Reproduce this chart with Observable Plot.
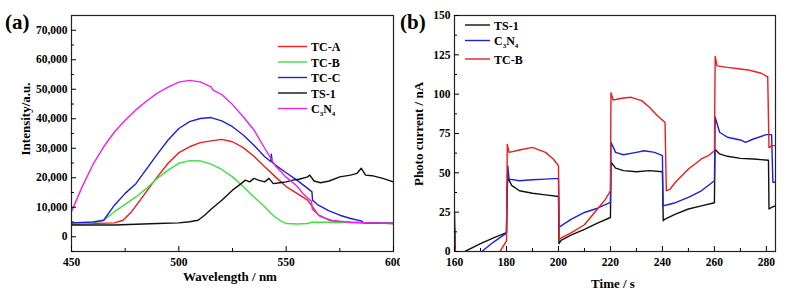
<!DOCTYPE html>
<html>
<head>
<meta charset="utf-8">
<script src="https://cdn.jsdelivr.net/npm/d3@7"></script>
<script src="https://cdn.jsdelivr.net/npm/@observablehq/plot@0.6"></script>
<style>
  html, body { margin: 0; padding: 0; background: white; }
  #wrap { display: flex; width: 789px; height: 297px; overflow: hidden; }
  #wrap svg { display: block; flex: none; }
  #wrap svg text { font-family: "Liberation Serif", "Times New Roman", serif !important; font-weight: bold; }
</style>
</head>
<body>
<div id="wrap"></div>
<script>
// ---------- Panel (a): PL spectra ----------
const tcA_wl = [450,470,474,478,482,486,490,495,500,505,510,515,520,525,530,535,540,545,550,555,560,565,570,575,580,600];
const tcA    = [4300,4700,5600,8500,12400,16400,20300,24900,28500,30500,31900,32500,33000,32200,30200,27300,23700,20300,17000,14700,12400,7400,5600,5100,4900,4500];

const tcB_wl = [450,460,465,470,475,480,485,490,495,500,505,510,515,520,525,530,535,540,543,545,548,550,555,560,562,570,600];
const tcB    = [4300,4700,5600,8500,11000,13500,16400,19800,22600,24900,25800,25700,24600,22800,20300,17000,13500,10200,7900,6600,5100,4500,4300,4500,4900,4900,4500];

const tcC_wl = [450,460,465,470,475,480,485,490,495,500,505,510,515,520,525,530,535,540,542.8,543.1,543.5,545,550,555,560,562,562.3,565,570,575,580,585,586,600];
const tcC    = [4700,5000,5600,10700,14700,18000,23000,28000,32800,36700,39000,40100,40400,39300,37300,34500,31000,27100,25500,28000,25200,24300,21700,19200,16400,15200,12400,10700,8800,7300,6200,5400,4700,4600];

const ts1_wl = [450,470,490,500,505,509,512,515,520,525,529,531,533,535,537,540,542,544,547,550,553,556,560,561,563,566,570,575,580,583,585,587,590,595,600];
const ts1    = [4000,4000,4500,4700,5100,5600,7300,9300,12400,15800,18000,19200,18600,19800,19200,18600,19800,18000,18300,18600,19200,19500,20300,20900,18900,18300,18900,20300,20900,21500,23200,20900,20700,19800,18600];

const c3n4_wl = [450,455,460,465,470,475,480,485,490,495,500,505,510,515,516,520,525,530,535,540,545,550,555,558,561.8,562.2,566,572,580,590,600];
const c3n4    = [8500,17000,24500,30500,35500,39500,43000,46000,48700,50700,52400,53000,52500,50800,49700,48200,44800,40700,36200,30000,24000,20200,17200,14500,12000,9300,6800,5400,4900,4700,4500];

const aSeries = [
  {name: "TC-A", x: tcA_wl, y: tcA, color: "#ee1c1c"},
  {name: "TC-B", x: tcB_wl, y: tcB, color: "#3ee03e"},
  {name: "TC-C", x: tcC_wl, y: tcC, color: "#1f1fd6"},
  {name: "TS-1", x: ts1_wl, y: ts1, color: "#111111"},
  {name: "C3N4", x: c3n4_wl, y: c3n4, color: "#ee22ee"}
];
const aXTicks = [450, 500, 550, 600];
const aXMinor = [475, 525, 575];
const aYTicks = [0, 10000, 20000, 30000, 40000, 50000, 60000, 70000];
const aYMinor = [-5000, 5000, 15000, 25000, 35000, 45000, 55000, 65000];

// ---------- Panel (b): photocurrent ----------
const bTS1_t = [160,160.3,164,170,175,180,180.2,180.6,182,185,190,195,200,200.2,201,205,210,215,220,220.2,222,225,230,235,240,240.3,241,245,250,255,260,260.2,262,265,270,275,280.8,281,282,283.5];
const bTS1   = [25,-3,0,5,8.7,12,40,47,42,38.6,37,36,35,5,7,10.5,14,18,21.6,56.7,53,51.4,50.7,51.4,50.7,19.5,20.6,23.8,27,29,31,65,62,60.5,59.2,58.8,58,27,28,29];

const bC3N4_t = [160,160.3,170.5,175,180,180.2,180.5,181,185,190,195,200,200.2,202,205,210,215,220,220.2,222,225,230,233,237,240,240.2,242,245,250,255,260,260.3,262,265,270,272,275,280,282,282.5,283.5];
const bC3N4   = [15,-3,0,6,11.7,30,54.5,46,45,45.6,46,46.5,15.3,17.4,20.6,24.8,27.5,31.2,69.4,63,61.5,63,64,63,61,29,29.7,31,34.4,38.6,45,85.3,75.8,72.6,70.9,69.4,71.5,74.3,74.3,44,44];

const bTCB_t = [160,160.3,177.5,180,180.3,181,185,190,195,198,200,200.3,202,205,210,215,218,220,220.2,221,225,228,232,235,238,241,241.5,243,245,250,255,258,260,260.3,261,265,270,273,275,278,280.5,281,282,283.5];
const bTCB   = [13,-3,0,6.8,68,63,64.5,66.2,63,58.8,54.5,7.9,9.5,12,17,27,33,38.6,101,96.3,97.6,98,95.9,91.7,86.4,82,38.6,39.7,44,52.4,58.8,61.3,64,124,118,117,116,115.4,114.6,113.3,111,66,67.3,67.3];

const bSeries = [
  {name: "TS-1", x: bTS1_t, y: bTS1, color: "#111111"},
  {name: "C3N4", x: bC3N4_t, y: bC3N4, color: "#1f1fd6"},
  {name: "TC-B", x: bTCB_t, y: bTCB, color: "#ee1c1c"}
];
const bXTicks = [160, 180, 200, 220, 240, 260, 280];
const bXMinor = [170, 190, 210, 230, 250, 270];
const bYTicks = [0, 25, 50, 75, 100, 125, 150];
const bYMinor = [12.5, 37.5, 62.5, 87.5, 112.5, 137.5];

const FONT = '"Liberation Serif", "Times New Roman", serif';

function panel(cfg) {
  const marks = [];
  for (const s of cfg.series) {
    const rows = s.x.map((x, i) => ({x, y: s.y[i]}));
    marks.push(Plot.line(rows, {x: "x", y: "y", stroke: s.color, strokeWidth: 1.4, clip: true}));
  }
  marks.push(
    Plot.frame({stroke: "#222", strokeWidth: 1.2}),
    Plot.axisX({ticks: cfg.xTicks, anchor: "bottom", tickSize: 0, tickPadding: 6, label: null}),
    Plot.axisX({ticks: cfg.xTicks, anchor: "bottom", tickSize: -5, tickFormat: () => "", label: null}),
    Plot.axisX({ticks: cfg.xMinor, anchor: "bottom", tickSize: -3, tickFormat: () => "", label: null}),
    Plot.axisY({ticks: cfg.yTicks, anchor: "left", tickSize: 0, tickPadding: 4, tickFormat: cfg.yFormat, label: null}),
    Plot.axisY({ticks: cfg.yTicks, anchor: "left", tickSize: -5, tickFormat: () => "", label: null}),
    Plot.axisY({ticks: cfg.yMinor, anchor: "left", tickSize: -3, tickFormat: () => "", label: null})
  );
  const svg = Plot.plot({
    width: cfg.width, height: 297,
    marginLeft: cfg.marginLeft, marginRight: cfg.marginRight, marginTop: 15, marginBottom: 46,
    x: {domain: cfg.xDomain}, y: {domain: cfg.yDomain},
    style: {fontFamily: FONT, fontWeight: "bold", fontSize: "11.5px", color: "black", background: "white", overflow: "visible"},
    marks
  });
  const g = d3.select(svg);
  const txt = () => g.append("text").attr("font-family", FONT).attr("font-weight", "bold").attr("fill", "black");
  // panel tag
  txt().attr("x", cfg.tagX).attr("y", 29).attr("font-size", 21).attr("text-anchor", "start").text(cfg.tag);
  // y label
  txt().attr("transform", `translate(${cfg.yLabelX},${cfg.yLabelY}) rotate(-90)`)
    .attr("text-anchor", "middle").attr("font-size", 13).text(cfg.yLabel);
  // x label
  txt().attr("x", cfg.xLabelX).attr("y", cfg.xLabelY).attr("text-anchor", "middle")
    .attr("font-size", 13).text(cfg.xLabel);
  // legend
  cfg.series.forEach((s, i) => {
    const y = cfg.legY[i];
    g.append("line").attr("x1", cfg.legX1).attr("x2", cfg.legX2).attr("y1", y).attr("y2", y)
      .attr("stroke", s.color).attr("stroke-width", 1.4);
    const t = txt().attr("x", cfg.legX2 + 4).attr("y", y + 4.5).attr("font-size", 12).attr("text-anchor", "start");
    if (s.name === "C3N4") {
      t.append("tspan").text("C");
      t.append("tspan").attr("font-size", 7).attr("dy", 3).text("3");
      t.append("tspan").attr("dy", -3).text("N");
      t.append("tspan").attr("font-size", 7).attr("dy", 3).text("4");
    } else t.text(s.name);
  });
  return svg;
}

const wrap = document.getElementById("wrap");
wrap.appendChild(panel({
  width: 400, marginLeft: 71, marginRight: 7,
  xDomain: [450, 600], yDomain: [-5000, 75000],
  xTicks: aXTicks, xMinor: aXMinor, yTicks: aYTicks, yMinor: aYMinor, yFormat: d3.format(","),
  series: aSeries, tag: "(a)", tagX: 5,
  yLabel: "Intensity/a.u.", yLabelX: 30, yLabelY: 119,
  xLabel: "Wavelength / nm", xLabelX: 230, xLabelY: 281,
  legX1: 278, legX2: 307, legY: [46.5, 62, 77.5, 93, 108.5]
}));
wrap.appendChild(panel({
  width: 389, marginLeft: 54, marginRight: 14,
  xDomain: [160, 283.5], yDomain: [0, 150],
  xTicks: bXTicks, xMinor: bXMinor, yTicks: bYTicks, yMinor: bYMinor, yFormat: d3.format("d"),
  series: bSeries, tag: "(b)", tagX: 0,
  yLabel: "Photo current / nA", yLabelX: 23, yLabelY: 134,
  xLabel: "Time / s", xLabelX: 213, xLabelY: 288,
  legX1: 65, legX2: 90, legY: [25, 40.5, 59]
}));
</script>
</body>
</html>
